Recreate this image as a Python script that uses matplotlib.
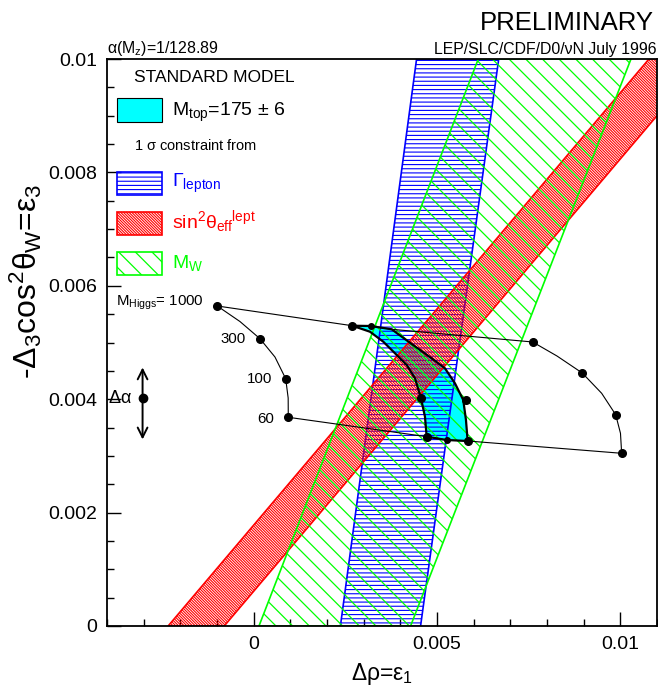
import matplotlib
matplotlib.use("Agg")
import matplotlib.pyplot as plt
from matplotlib.patches import Polygon, Rectangle
from matplotlib.ticker import MultipleLocator
import numpy as np

plt.rcParams['font.family'] = ['Liberation Sans', 'DejaVu Sans']
plt.rcParams['mathtext.fontset'] = 'custom'
plt.rcParams['mathtext.rm'] = 'Liberation Sans'
plt.rcParams['mathtext.it'] = 'Liberation Sans'
plt.rcParams['mathtext.bf'] = 'Liberation Sans:bold'
plt.rcParams['hatch.linewidth'] = 0.9

# 1 sigma bands: eps1 of the (left, right) edge at eps3 = 0 and at eps3 = 0.01
gamma_lep_y0 = [0.002366, 0.004552]
gamma_lep_y1 = [0.004443, 0.006683]
sin2_y0 = [-0.002333, -0.000803]
sin2_y1 = [0.010781, 0.012311]
mw_y0 = [0.000145, 0.004279]
mw_y1 = [0.006126, 0.010290]

# SM grid, Higgs curves (M_Higgs 1000 -> 60) for the lowest and highest M_top
grid_lo_eps1 = [-0.000993, -0.000374, 0.000172, 0.000581, 0.000873, 0.000941, 0.000944]
grid_lo_eps3 = [0.005644, 0.005370, 0.005067, 0.004744, 0.004362, 0.004021, 0.003681]
grid_hi_eps1 = [0.007609, 0.008272, 0.008962, 0.009491, 0.009873, 0.010004, 0.010036]
grid_hi_eps3 = [0.005009, 0.004762, 0.004462, 0.004104, 0.003727, 0.003399, 0.003046]
# M_Higgs = 1000 and 60 lines (M_top varying)
mh1000_eps1 = [-0.000993, 0.002689, 0.003191, 0.003764, 0.007609]
mh1000_eps3 = [0.005644, 0.005296, 0.005291, 0.005233, 0.005009]
mh60_eps1 = [0.000944, 0.004718, 0.005264, 0.005836, 0.010036]
mh60_eps3 = [0.003681, 0.003339, 0.003280, 0.003263, 0.003046]

# M_top = 175 - 6 and 175 + 6 Higgs curves (1000 -> 60)
mt169_eps1 = [0.002689, 0.003172, 0.003535, 0.003854, 0.004173, 0.004399, 0.004563, 0.004672, 0.004718]
mt169_eps3 = [0.005296, 0.005190, 0.005014, 0.004810, 0.004603, 0.004369, 0.004016, 0.003691, 0.003339]
mt181_eps1 = [0.003764, 0.004263, 0.004855, 0.005217, 0.005490, 0.005716, 0.005790, 0.005836]
mt181_eps3 = [0.005233, 0.004996, 0.004721, 0.004545, 0.004280, 0.003986, 0.003633, 0.003263]
mt175_eps1 = [0.003191, 0.005264]
mt175_eps3 = [0.005291, 0.003280]

# grid points marked with dots
dots_eps1 = [-0.000993, 0.000172, 0.000873, 0.000944,
             0.007609, 0.008962, 0.009873, 0.010036,
             0.002689, 0.004563, 0.004718, 0.005790, 0.005836]
dots_eps3 = [0.005644, 0.005067, 0.004362, 0.003681,
             0.005009, 0.004462, 0.003727, 0.003046,
             0.005296, 0.004016, 0.003339, 0.003986, 0.003263]
small_dots_eps1 = mt175_eps1
small_dots_eps3 = mt175_eps3

higgs_labels = ['M$_{\\rm Higgs}$= 1000', '300', '100', '60']

# Delta alpha error bar
dalpha_eps1 = -0.00303
dalpha_eps3 = 0.00402
dalpha_range = [0.00329, 0.00456]

BLUE_HATCH = '----'
RED_HATCH = '\\' * 12
GREEN_HATCH = '\\\\'

fig = plt.figure(figsize=(6.58, 6.92), dpi=100)
ax = fig.add_axes([107 / 658, 66 / 692, 550 / 658, 567 / 692])
ax.set_xlim(-0.004, 0.011)
ax.set_ylim(0, 0.01)


def hatch_lw(p, lw):
    if hasattr(p, 'set_hatch_linewidth'):
        p.set_hatch_linewidth(lw)


def band(y0, y1, color, hatch, z, hlw):
    pts = [(y0[0], 0), (y0[1], 0), (y1[1], 0.01), (y1[0], 0.01)]
    p = Polygon(pts, closed=True, facecolor='none', edgecolor=color,
                hatch=hatch, lw=1.2, zorder=z)
    hatch_lw(p, hlw)
    ax.add_patch(p)


# cyan M_top region
cyan_x = np.concatenate([mt169_eps1, [mt175_eps1[1]], mt181_eps1[::-1], [mt175_eps1[0]]])
cyan_y = np.concatenate([mt169_eps3, [mt175_eps3[1]], mt181_eps3[::-1], [mt175_eps3[0]]])
ax.fill(cyan_x, cyan_y, color='#00ffff', zorder=1, lw=0)
ax.add_patch(Polygon(np.column_stack([cyan_x, cyan_y]), closed=True, fill=False,
                     edgecolor='black', lw=1.6, zorder=6))

band(gamma_lep_y0, gamma_lep_y1, '#0000ff', BLUE_HATCH, 2, 0.8)
band(sin2_y0, sin2_y1, '#ff0000', RED_HATCH, 3, 0.8)
band(mw_y0, mw_y1, '#00ff00', GREEN_HATCH, 4, 0.9)

for xs, ys in [(grid_lo_eps1, grid_lo_eps3), (grid_hi_eps1, grid_hi_eps3),
               (mh1000_eps1, mh1000_eps3), (mh60_eps1, mh60_eps3)]:
    ax.plot(xs, ys, color='black', lw=0.8, zorder=5)

ax.plot(dots_eps1, dots_eps3, 'o', color='black', ms=5.5, zorder=7)
ax.plot(small_dots_eps1, small_dots_eps3, 'o', color='black', ms=4, zorder=7)

# Higgs mass labels next to the low M_top curve
label_idx = [0, 2, 4, 6]
label_dy = [2, 0, 0, -1]
for lab, i, dy in zip(higgs_labels, label_idx, label_dy):
    ax.annotate(lab, (grid_lo_eps1[i], grid_lo_eps3[i]), xytext=(-10, dy),
                textcoords='offset points', ha='right', va='center', fontsize=10.8)

# Delta alpha arrow
ax.annotate('', xy=(dalpha_eps1, dalpha_range[1]), xytext=(dalpha_eps1, dalpha_range[0]),
            arrowprops=dict(arrowstyle='<->,head_length=0.5,head_width=0.25',
                            lw=1.4, color='black', shrinkA=0, shrinkB=0,
                            mutation_scale=14), zorder=7)
ax.plot([dalpha_eps1], [dalpha_eps3], 'o', color='black', ms=6, zorder=8)
ax.annotate(r'$\Delta\alpha$', (dalpha_eps1, dalpha_eps3), xytext=(-8, 0),
            textcoords='offset points', ha='right', va='center', fontsize=13)

# legend
tr = ax.transAxes
ax.text(0.0491, 0.9589, 'STANDARD MODEL', transform=tr, fontsize=12.5, va='baseline')
ax.add_patch(Rectangle((0.0176, 0.8884), 0.0818, 0.0423, transform=tr,
                       facecolor='#00ffff', edgecolor='black', lw=0.8, zorder=8))
ax.text(0.1187, 0.8995, r'M$_{\rm top}$=175 $\pm$ 6', transform=tr, fontsize=14, va='baseline')
ax.text(0.0491, 0.8395, r'1 $\sigma$ constraint from', transform=tr, fontsize=10.5, va='baseline')
legend_rows = [(0.7600, '#0000ff', BLUE_HATCH, r'$\Gamma_{\rm lepton}$', 0.7737, 0.8),
               (0.6896, '#ff0000', RED_HATCH, r'sin$^2\theta_{\rm eff}{}^{\rm lept}$', 0.7014, 0.8),
               (0.6190, '#00ff00', GREEN_HATCH, r'M$_{\rm W}$', 0.6309, 0.9)]
for yb, col, h, lab, ytxt, hlw in legend_rows:
    r = Rectangle((0.0176, yb), 0.0818, 0.041, transform=tr, facecolor='none',
                  edgecolor=col, hatch=h, lw=1.2, zorder=8)
    hatch_lw(r, hlw)
    ax.add_patch(r)
    ax.text(0.1187, ytxt, lab, transform=tr, fontsize=14, va='baseline', color=col)

# axes styling
ax.set_xticks([0, 0.005, 0.01])
ax.set_xticklabels(['0', '0.005', '0.01'])
ax.set_yticks([0, 0.002, 0.004, 0.006, 0.008, 0.01])
ax.set_yticklabels(['0', '0.002', '0.004', '0.006', '0.008', '0.01'])
ax.xaxis.set_minor_locator(MultipleLocator(0.001))
ax.yaxis.set_minor_locator(MultipleLocator(0.0005))
ax.tick_params(which='both', direction='in', top=False, right=False, labelsize=14)
ax.tick_params(which='major', length=10, width=1.0, pad=7)
ax.tick_params(which='minor', length=5, width=1.0)
for s in ax.spines.values():
    s.set_linewidth(1.3)
    s.set_zorder(10)

fig.text(382 / 658, (692 - 680) / 692, r'$\Delta\rho$=$\varepsilon_1$', ha='center',
         va='baseline', fontsize=16.5)
fig.text(26 / 658, (692 - 281) / 692, r'-$\Delta_3$cos$^2\theta_{\rm W}$=$\varepsilon_3$',
         ha='center', va='center', rotation=90, fontsize=23)

fig.text(654 / 658, (692 - 30) / 692, 'PRELIMINARY', ha='right', va='baseline', fontsize=18.5)
fig.text(657 / 658, (692 - 54) / 692, 'LEP/SLC/CDF/D0/\u03bdN July 1996', ha='right',
         va='baseline', fontsize=11.4)
fig.text(107 / 658, (692 - 53) / 692, r'$\alpha$(M$_{\rm z}$)=1/128.89', ha='left',
         va='baseline', fontsize=11.4)

fig.savefig('out.png', dpi=100)
